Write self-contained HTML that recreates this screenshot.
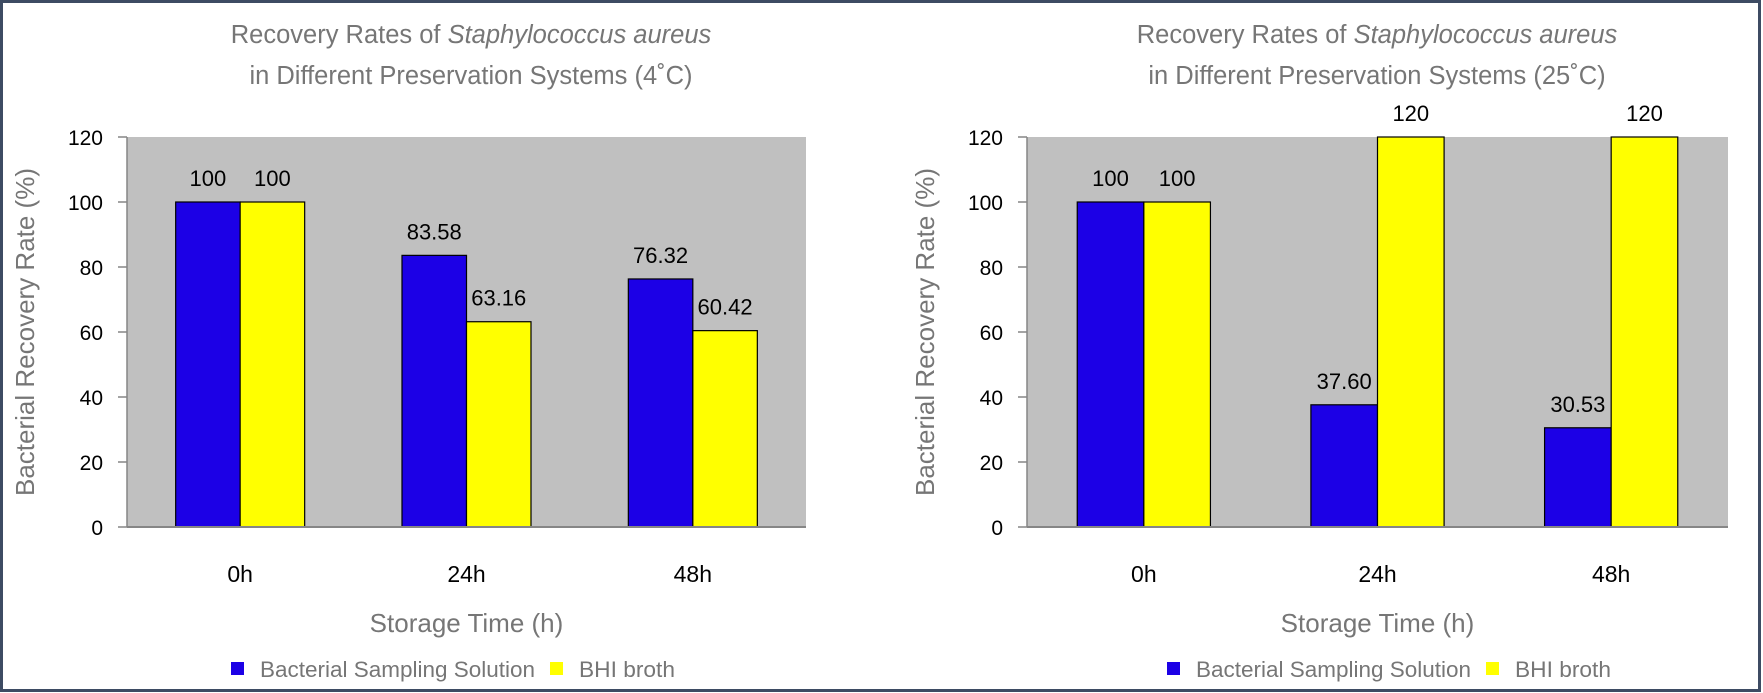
<!DOCTYPE html>
<html><head><meta charset="utf-8"><style>
html,body{margin:0;padding:0;background:#fff}
svg{display:block}
text{font-family:"Liberation Sans",sans-serif}
</style></head><body>
<svg id="root" width="1763" height="693" viewBox="0 0 1763 693" xmlns="http://www.w3.org/2000/svg">
<rect x="1.5" y="1.5" width="1758" height="689" fill="#fff" stroke="#3d4b63" stroke-width="3"/>
</svg>
<script>
const categories = ["0h","24h","48h"];
const seriesNames = ["Bacterial Sampling Solution","BHI broth"];
const left4C_sampling = [100, 83.58, 76.32];
const left4C_bhi = [100, 63.16, 60.42];
const left4C_labels_sampling = ["100","83.58","76.32"];
const left4C_labels_bhi = ["100","63.16","60.42"];
const right25C_sampling = [100, 37.60, 30.53];
const right25C_bhi = [100, 120, 120];
const right25C_labels_sampling = ["100","37.60","30.53"];
const right25C_labels_bhi = ["100","120","120"];
const yTicks = [0,20,40,60,80,100,120];
const yMax = 120;

const NS="http://www.w3.org/2000/svg";
const root=document.getElementById('root');
function mk(tag,attrs,parent,txt){const e=document.createElementNS(NS,tag);for(const k in attrs)e.setAttribute(k,attrs[k]);if(txt!==undefined)e.textContent=txt;(parent||root).appendChild(e);return e;}

function drawChart(cfg){
  const g=mk('g',{});
  
  
  const x0=cfg.x0,x1=cfg.x1,yTop=137,yBot=527;
  const yS=v=>yBot-(v/yMax)*(yBot-yTop);
  const cw=(x1-x0)/categories.length;
  const bw=cw*0.285;
  const xC=i=>x0+cw*(i+0.5);
  const plot=mk('rect',{x:x0,y:yTop,width:x1-x0,height:yBot-yTop,fill:'#c0c0c0'},g);
  
  
  mk('line',{x1:x0,y1:yTop,x2:x0,y2:yBot,stroke:'#868686','stroke-width':1.5},g);
  yTicks.forEach(t=>{
    mk('line',{x1:x0-9,y1:yS(t),x2:x0,y2:yS(t),stroke:'#868686','stroke-width':1.5},g);
    const tl=mk('text',{x:x0-24,y:yS(t)+8,'text-anchor':'end','font-size':21,fill:'#000'},g,String(t));
    
    
  });
  const series=[[cfg.a,'#1c00e6',cfg.la],[cfg.b,'#ffff00',cfg.lb]];
  categories.forEach((c,i)=>{
    series.forEach((s,k)=>{
      const v=s[0][i];
      const bx=xC(i)-bw+k*bw;
      const r=mk('rect',{x:bx,y:yS(v),width:bw,height:yBot-yS(v),fill:s[1],stroke:'#000','stroke-width':1.2},g);
      
      
      const vl=mk('text',{x:bx+bw/2,y:yS(v)-16,'text-anchor':'middle','font-size':22,fill:'#000'},g,s[2][i]);
      
      
    });
    const cl=mk('text',{x:xC(i),y:582,'text-anchor':'middle','font-size':23,fill:'#000'},g,c);
    
    
  });
  mk('line',{x1:x0,y1:yBot,x2:x1,y2:yBot,stroke:'#868686','stroke-width':2},g);
  const t=mk('text',{x:cfg.tc,y:43,'text-anchor':'middle','font-size':25.5,fill:'#767676'},g);
  
  
  mk('tspan',{},t,'Recovery Rates of ');
  mk('tspan',{'font-style':'italic'},t,'Staphylococcus aureus');
  const t2=mk('text',{x:cfg.tc,y:84,'text-anchor':'middle','font-size':25.5,fill:'#767676'},g,'in Different Preservation Systems ('+cfg.temp+'˚C)');
  
  
  const ya=mk('text',{x:0,y:0,'text-anchor':'middle','font-size':26,fill:'#767676',transform:'translate('+(x0-93)+',332) rotate(-90)'},g,'Bacterial Recovery Rate (%)');
  
  
  const xa=mk('text',{x:(x0+x1)/2,y:632,'text-anchor':'middle','font-size':26,fill:'#767676'},g,'Storage Time (h)');
  
  
  const lg=mk('g',{},g);
  
  
  [[cfg.l1,'#1c00e6',seriesNames[0],275],[cfg.l2,'#ffff00',seriesNames[1],96]].forEach(e=>{
    const sq=mk('rect',{x:e[0],y:662,width:13,height:13,fill:e[1]},lg);
    
    
    const lt=mk('text',{x:e[0]+29,y:677,'font-size':22,fill:'#767676',textLength:e[3],lengthAdjust:'spacingAndGlyphs'},lg,e[2]);
    
    
  });
}
drawChart({name:'chart-4c',x0:127,x1:806,a:left4C_sampling,b:left4C_bhi,la:left4C_labels_sampling,lb:left4C_labels_bhi,tc:471,temp:'4',l1:231,l2:550});
drawChart({name:'chart-25c',x0:1027,x1:1728,a:right25C_sampling,b:right25C_bhi,la:right25C_labels_sampling,lb:right25C_labels_bhi,tc:1377,temp:'25',l1:1167,l2:1486});
</script>
</body></html>
